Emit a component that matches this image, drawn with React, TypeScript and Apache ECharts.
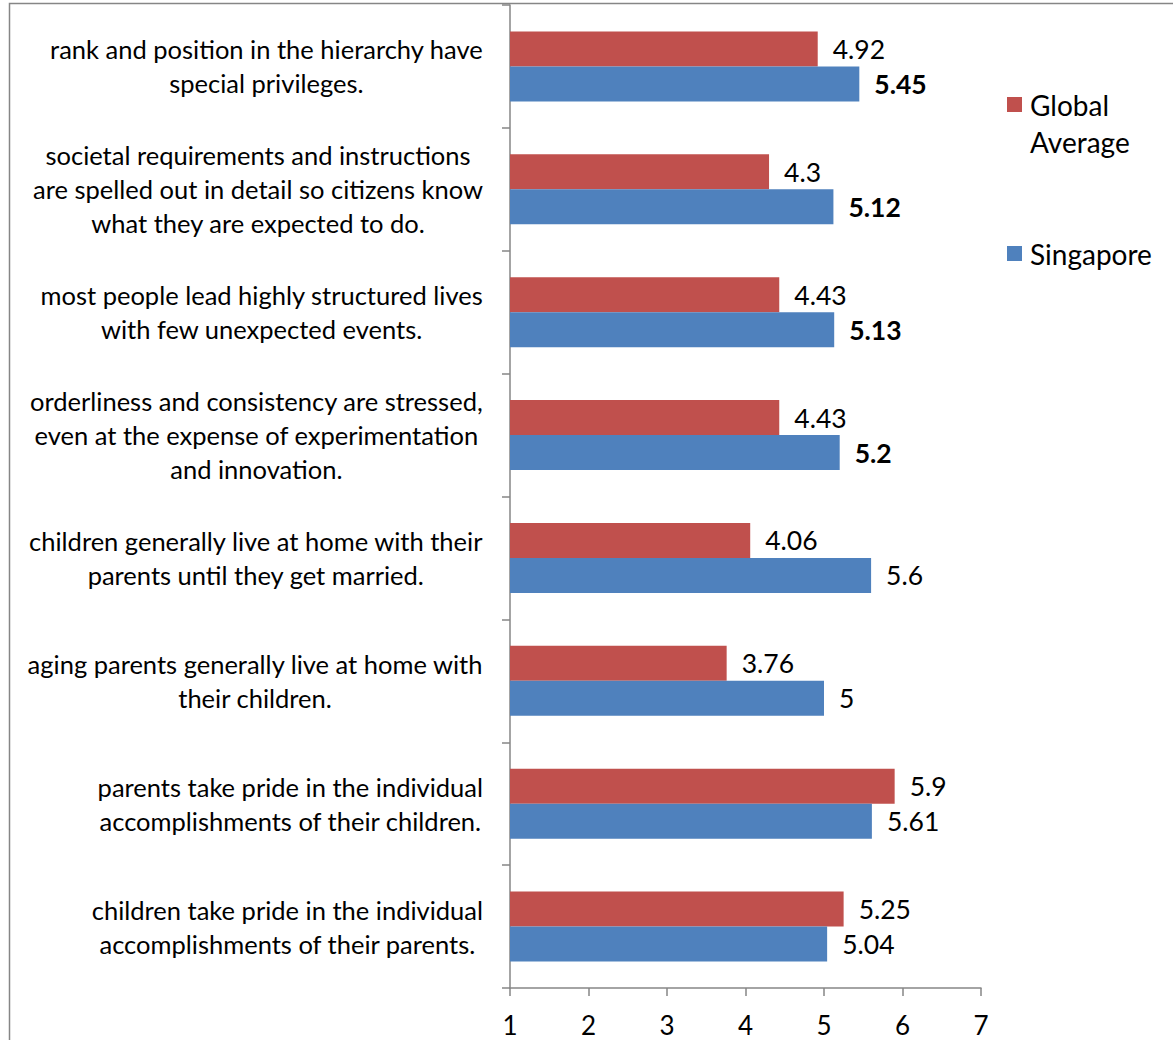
import React, { useEffect, useRef } from "react";
import * as echarts from "echarts";

const categories = [
  "rank and position in the hierarchy have\nspecial privileges.",
  "societal requirements and instructions\nare spelled out in detail so citizens know\nwhat they are expected to do.",
  "most people lead highly structured lives\nwith few unexpected events.",
  "orderliness and consistency are stressed,\neven at the expense of experimentation\nand innovation.",
  "children generally live at home with their\nparents until they get married.",
  "aging parents generally live at home with\ntheir children.",
  "parents take pride in the individual\naccomplishments of their children.",
  "children take pride in the individual\naccomplishments of their parents.",
];
const globalAverage = [4.92, 4.3, 4.43, 4.43, 4.06, 3.76, 5.9, 5.25];
const singapore = [5.45, 5.12, 5.13, 5.2, 5.6, 5, 5.61, 5.04];
const singaporeBold = [true, true, true, true, false, false, false, false];
const xTicks = [1, 2, 3, 4, 5, 6, 7];

const FONT = "Lato";

export default function App() {
  const ref = useRef<HTMLDivElement>(null);
  useEffect(() => {
    document.body.style.margin = "0";
    const chart = echarts.init(ref.current!, null, { renderer: "svg" });
    const legendText = { fontSize: 28, fontFamily: FONT, color: "#000", lineHeight: 37, padding: [0, 0, 0, 3] };
    chart.setOption({
      animation: false,
      backgroundColor: "#fff",
      textStyle: { fontFamily: FONT, color: "#000" },
      grid: { left: 510, top: 5, right: 192, bottom: 52, containLabel: false },
      legend: [
        {
          orient: "vertical",
          left: 1007,
          top: 49,
          padding: 0,
          itemWidth: 15,
          itemHeight: 15,
          icon: "rect",
          data: ["Global Average"],
          formatter: () => "{e|}\n{t|Global}\n{t|Average}",
          textStyle: {
            ...legendText,
            rich: {
              e: { lineHeight: 37, fontSize: 28, fontFamily: FONT },
              t: { lineHeight: 37, fontSize: 28, fontFamily: FONT, color: "#000" },
            },
          },
        },
        {
          orient: "vertical",
          left: 1007,
          top: 235,
          padding: 0,
          itemWidth: 15,
          itemHeight: 15,
          icon: "rect",
          data: ["Singapore"],
          textStyle: legendText,
        },
      ],
      graphic: [
        {
          type: "rect",
          shape: { x: 9.5, y: 3.5, width: 1300, height: 1200 },
          style: { fill: "none", stroke: "#868686", lineWidth: 1.5 },
          silent: true,
        },
      ],
      xAxis: {
        type: "value",
        min: xTicks[0],
        max: xTicks[xTicks.length - 1],
        interval: 1,
        axisLine: { show: true, lineStyle: { color: "#868686", width: 1.5 } },
        axisTick: { show: true, length: 8, lineStyle: { color: "#868686", width: 1.5 } },
        splitLine: { show: false },
        axisLabel: { fontSize: 26, fontFamily: FONT, color: "#000", margin: 24 },
      },
      yAxis: {
        type: "category",
        inverse: true,
        data: categories,
        axisLine: { show: true, lineStyle: { color: "#868686", width: 1.5 } },
        axisTick: { show: true, length: 8, lineStyle: { color: "#868686", width: 1.5 } },
        axisLabel: {
          margin: 27,
          formatter: (v: string) => v.split("\n").map((l) => `{c|${l}}`).join("\n"),
          rich: {
            c: { align: "center", fontSize: 25.5, lineHeight: 34, fontFamily: FONT, color: "#000" },
          },
        },
      },
      series: [
        {
          name: "Global Average",
          type: "bar",
          data: globalAverage,
          barWidth: 35,
          barGap: "0%",
          itemStyle: { color: "#C0504D" },
          label: { show: true, position: "right", distance: 15, fontSize: 26.5, fontFamily: FONT, color: "#000" },
        },
        {
          name: "Singapore",
          type: "bar",
          data: singapore.map((v, i) => ({
            value: v,
            label: { fontWeight: singaporeBold[i] ? "bold" : "normal" },
          })),
          barWidth: 35,
          barGap: "0%",
          itemStyle: { color: "#4F81BD" },
          label: { show: true, position: "right", distance: 15, fontSize: 26.5, fontFamily: FONT, color: "#000" },
        },
      ],
    });
    return () => chart.dispose();
  }, []);
  return <div ref={ref} style={{ width: 1173, height: 1040 }} />;
}
